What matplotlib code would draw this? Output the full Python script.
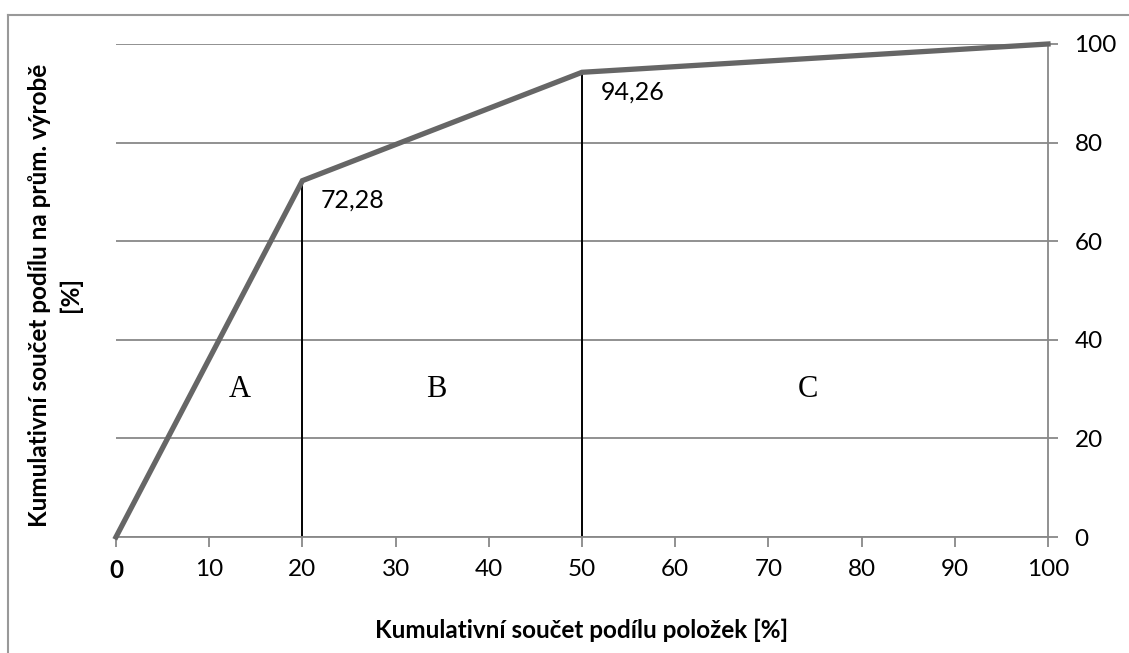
import matplotlib
matplotlib.use("Agg")
import matplotlib.pyplot as plt
from matplotlib.lines import Line2D

# Data
x_vals = [0, 20, 50, 100]
y_vals = [0, 72.28, 94.26, 100]
boundaries_x = [20, 50]
boundaries_y = [72.28, 94.26]
point_labels = ["72,28", "94,26"]
zone_labels = ["A", "B", "C"]
zone_x = [13.3, 34.4, 74.2]
zone_y = [30, 30, 30]
x_ticks = [0, 10, 20, 30, 40, 50, 60, 70, 80, 90, 100]
y_ticks = [0, 20, 40, 60, 80, 100]

plt.rcParams['font.family'] = ['Lato', 'DejaVu Sans']

fig = plt.figure(figsize=(11.29, 6.53), dpi=100)
ax = fig.add_axes([116/1129, 1-537/653, (1048-116)/1129, (537-44)/653])

grid_c = '#888888'
fs = 17.5
ax.set_xlim(0, 100)
ax.set_ylim(0, 100)
ax.set_yticks(y_ticks)
ax.set_xticks(x_ticks)
ax.yaxis.tick_right()
ax.grid(axis='y', color=grid_c, linewidth=1.3)
ax.set_axisbelow(True)
for s in ['top', 'left']:
    ax.spines[s].set_visible(False)
for s in ['right', 'bottom']:
    ax.spines[s].set_color(grid_c)
    ax.spines[s].set_linewidth(1.3)
ax.tick_params(axis='both', colors=grid_c, length=7, width=1.3, labelcolor='black', labelsize=fs)
ax.tick_params(axis='y', pad=12)
ax.tick_params(axis='x', pad=9)
lbls = [str(t) for t in x_ticks]
ax.set_xticklabels(lbls)
ax.get_xticklabels()[0].set_fontweight('bold')

ax.plot(x_vals, y_vals, color='#666666', linewidth=3.8, solid_joinstyle='miter', zorder=3, clip_on=False)
for bx, by in zip(boundaries_x, boundaries_y):
    ax.plot([bx, bx], [0, by], color='black', linewidth=1.4, zorder=2)
for bx, by, t in zip(boundaries_x, boundaries_y, point_labels):
    ax.text(bx + 2, by - 4, t, fontsize=18, ha='left', va='center')
for zx, zy, t in zip(zone_x, zone_y, zone_labels):
    ax.text(zx, zy, t, fontsize=22, ha='center', va='center', family='Liberation Serif')

ax.set_xlabel("Kumulativní součet podílu položek [%]", fontsize=fs, fontweight='bold', labelpad=26)
fig.text(40/1129, 1-295/653, "Kumulativní součet podílu na prům. výrobě", rotation=90,
         fontsize=fs, fontweight='bold', ha='center', va='center')
fig.text(70/1129, 1-295/653, "[%]", rotation=90,
         fontsize=fs, fontweight='bold', ha='center', va='center')

fig.add_artist(Line2D([8/1129, 8/1129], [0, 1-15/653], color='#999999', linewidth=1.5))
fig.add_artist(Line2D([8/1129, 1], [1-15/653, 1-15/653], color='#999999', linewidth=1.5))

fig.savefig('out.png', dpi=100)
